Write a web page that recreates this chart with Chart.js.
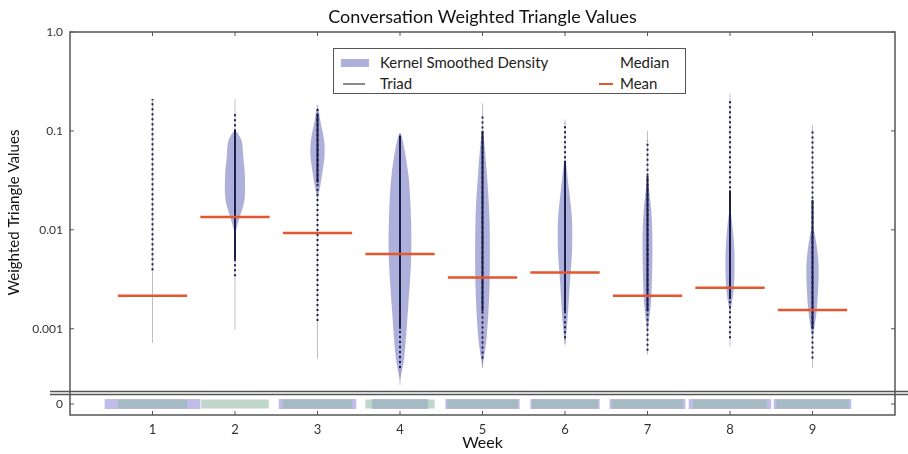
<!DOCTYPE html>
<html>
<head>
<meta charset="utf-8">
<script src="https://cdn.jsdelivr.net/npm/chart.js@4"></script>
<style>
  body { margin: 0; background: #fff; }
  #wrap { position: relative; width: 908px; height: 454px; }
  #legend { position: absolute; left: 333px; top: 48px; width: 351px; height: 44px; border: 1.5px solid #555; background: #fff; font: 15px Lato, sans-serif; color: #222; }
  #legend span { position: absolute; line-height: 18px; white-space: nowrap; }
</style>
</head>
<body>
<div id="wrap">
  <canvas id="myChart" width="908" height="454"></canvas>
  <div id="legend">
    <span style="left:7px;top:10px;width:28px;height:8px;background:rgba(120,124,196,0.6)"></span>
    <span style="left:46px;top:4px">Kernel Smoothed Density</span>
    <span style="left:286px;top:4px">Median</span>
    <span style="left:9px;top:34px;width:22px;height:1.5px;background:#8a8a95"></span>
    <span style="left:46px;top:25px">Triad</span>
    <span style="left:265px;top:34px;width:14px;height:2px;background:#e4572e"></span>
    <span style="left:286px;top:25px">Mean</span>
  </div>
</div>
<script>
var weeks = [1, 2, 3, 4, 5, 6, 7, 8, 9];
var tickValues = [1, 0.1, 0.01, 0.001];
var tickLabels = ['1.0', '0.1', '0.01', '0.001'];

var meanValues = [0.00215, 0.0135, 0.0093, 0.0057, 0.0033, 0.0037, 0.00215, 0.0026, 0.00155];

// extent of the triad points, the dotted part and the dense (solid) part
var triadMin = [0.00072, 0.00098, 0.0005, 0.00027, 0.0004, 0.0007, 0.00055, 0.00066, 0.0004];
var triadMax = [0.21, 0.21, 0.18, 0.095, 0.19, 0.13, 0.1, 0.24, 0.115];
var dotLo = [0.0039, 0.0034, 0.0012, 0.0004, 0.0005, 0.0008, 0.0006, 0.0008, 0.0005];
var dotHi = [0.21, 0.15, 0.18, 0.095, 0.15, 0.12, 0.08, 0.2, 0.1];
var denseLo = [null, 0.005, 0.03, 0.001, 0.0015, 0.0015, 0.0015, 0.002, 0.001];
var denseHi = [null, 0.1, 0.15, 0.09, 0.1, 0.05, 0.035, 0.025, 0.02];

// kernel density profile per week: values and half widths (in weeks)
var violinValues = [
  [],
  [0.009, 0.012, 0.02, 0.035, 0.055, 0.08, 0.1],
  [0.02, 0.03, 0.055, 0.08, 0.12, 0.175],
  [0.0003, 0.0005, 0.0017, 0.005, 0.012, 0.037, 0.095],
  [0.0004, 0.0008, 0.0027, 0.0126, 0.04, 0.1],
  [0.00065, 0.0012, 0.003, 0.006, 0.0126, 0.025, 0.05],
  [0.0009, 0.002, 0.0074, 0.016, 0.03],
  [0.0014, 0.0025, 0.005, 0.009, 0.016],
  [0.00078, 0.0015, 0.004, 0.007, 0.0107]
];
var violinWidths = [
  [],
  [0, 0.04, 0.115, 0.12, 0.1, 0.08, 0],
  [0, 0.04, 0.085, 0.08, 0.04, 0],
  [0, 0.05, 0.1, 0.135, 0.135, 0.1, 0],
  [0, 0.05, 0.085, 0.085, 0.05, 0],
  [0, 0.03, 0.06, 0.085, 0.085, 0.05, 0],
  [0, 0.045, 0.06, 0.045, 0],
  [0, 0.045, 0.055, 0.04, 0],
  [0, 0.05, 0.075, 0.05, 0]
];

// zero-valued triads (lower panel), half widths in weeks
var zeroDensity = [0.58, 0, 0.47, 0.34, 0.45, 0.42, 0.46, 0.5, 0.47];
var zeroTriad = [0.42, 0.41, 0.42, 0.42, 0.43, 0.4, 0.43, 0.45, 0.44];

var violinFill = 'rgba(120,124,196,0.6)';
var dotColor = '#1c1f4a';
var meanColor = '#e4572e';
var meanHalf = 0.42;

Chart.defaults.font.family = 'Lato, sans-serif';
Chart.defaults.color = '#333';

var datasets = [];
function seg(x0, x1, y0, y1, axis, style) {
  datasets.push(Object.assign({
    data: [{x: x0, y: y0}, {x: x1, y: y1}],
    yAxisID: axis, showLine: true, pointRadius: 0, fill: false
  }, style));
}

weeks.forEach(function (wk, i) {
  var v = violinValues[i], w = violinWidths[i];
  if (v.length) {
    var pts = v.map(function (val, k) { return {x: wk + w[k], y: val}; });
    for (var k = v.length - 2; k >= 0; k--) pts.push({x: wk - w[k], y: v[k]});
    datasets.push({
      data: pts, yAxisID: 'y', showLine: true, pointRadius: 0,
      borderWidth: 0, borderColor: 'rgba(0,0,0,0)', backgroundColor: violinFill,
      fill: 'shape', tension: 0.3, order: 6
    });
  }
  seg(wk, wk, triadMin[i], triadMax[i], 'y', {borderColor: 'rgba(110,110,135,0.45)', borderWidth: 1, order: 5});
  seg(wk, wk, dotLo[i], dotHi[i], 'y', {borderColor: dotColor, borderWidth: 2, borderDash: [2, 3], order: 4});
  if (denseLo[i] !== null) {
    seg(wk, wk, denseLo[i], denseHi[i], 'y', {borderColor: dotColor, borderWidth: 2, order: 3});
  }
  seg(wk - meanHalf, wk + meanHalf, meanValues[i], meanValues[i], 'y', {borderColor: meanColor, borderWidth: 2.5, order: 1});
  if (zeroDensity[i] > 0) {
    seg(wk - zeroDensity[i], wk + zeroDensity[i], 0, 0, 'yz', {borderColor: 'rgba(165,160,225,0.7)', borderWidth: 10, borderCapStyle: 'butt', order: 4});
  }
  seg(wk - zeroTriad[i], wk + zeroTriad[i], 0, 0, 'yz', {borderColor: 'rgba(150,185,170,0.6)', borderWidth: 9, borderCapStyle: 'butt', order: 3});
});

var framePlugin = {
  id: 'frame',
  afterDraw: function (chart) {
    var ctx = chart.ctx, a = chart.chartArea, s = chart.scales;
    ctx.save();
    ctx.strokeStyle = '#555';
    ctx.lineWidth = 1.5;
    ctx.strokeRect(a.left, a.top, a.right - a.left, a.bottom - a.top);
    ctx.lineWidth = 1;
    ctx.beginPath();
    weeks.forEach(function (wk) {
      var x = s.x.getPixelForValue(wk);
      ctx.moveTo(x, a.top); ctx.lineTo(x, a.top + 4);
      ctx.moveTo(x, a.bottom); ctx.lineTo(x, a.bottom - 4);
    });
    tickValues.forEach(function (v) {
      var y = s.y.getPixelForValue(v);
      ctx.moveTo(a.left, y); ctx.lineTo(a.left + 4, y);
      ctx.moveTo(a.right, y); ctx.lineTo(a.right - 4, y);
    });
    var y0 = s.yz.getPixelForValue(0);
    ctx.moveTo(a.left, y0); ctx.lineTo(a.left + 4, y0);
    ctx.moveTo(a.right, y0); ctx.lineTo(a.right - 4, y0);
    ctx.stroke();
    // separator between the two panels
    var yb = s.y.bottom;
    ctx.lineWidth = 1.4;
    ctx.beginPath();
    ctx.moveTo(a.left - 20, yb - 1.5); ctx.lineTo(chart.width, yb - 1.5);
    ctx.moveTo(a.left - 20, yb + 1.5); ctx.lineTo(chart.width, yb + 1.5);
    ctx.stroke();
    // title centred over the plot
    ctx.fillStyle = '#111';
    ctx.font = '18px Lato, sans-serif';
    ctx.textAlign = 'center';
    ctx.textBaseline = 'middle';
    ctx.fillText('Conversation Weighted Triangle Values', (a.left + a.right) / 2, 17);
    ctx.restore();
  }
};

var ctx = document.getElementById('myChart').getContext('2d');
var myChart = new Chart(ctx, {
  type: 'scatter',
  data: { datasets: datasets },
  options: {
    responsive: false,
    animation: false,
    layout: { padding: { top: 32, right: 13, left: 0, bottom: 0 } },
    plugins: { legend: { display: false }, tooltip: { enabled: false } },
    scales: {
      x: {
        type: 'linear', min: 0, max: 10,
        afterBuildTicks: function (s) { s.ticks = weeks.map(function (v) { return {value: v}; }); },
        ticks: { autoSkip: false, padding: 7, color: '#333', font: { size: 13 } },
        grid: { display: false, drawTicks: false },
        border: { display: false },
        title: { display: true, text: 'Week', color: '#111', font: { size: 16 }, padding: { top: 0, bottom: 2 } },
        afterFit: function (s) { s.height = 39; }
      },
      yz: {
        type: 'linear', position: 'left', stack: 'panel', stackWeight: 22, weight: 1,
        min: -1, max: 1,
        afterBuildTicks: function (s) { s.ticks = [{value: 0}]; },
        ticks: { autoSkip: false, padding: 7, color: '#333', font: { size: 12 }, callback: function () { return '0'; } },
        grid: { display: false, drawTicks: false },
        border: { display: false },
        afterFit: function (s) { s.width = 70; }
      },
      y: {
        type: 'logarithmic', position: 'left', stack: 'panel', stackWeight: 361, weight: 2,
        min: 2.24e-4, max: 1,
        afterBuildTicks: function (s) { s.ticks = tickValues.map(function (v) { return {value: v}; }); },
        ticks: { autoSkip: false, padding: 7, color: '#333', font: { size: 12 }, callback: function (v, i) { return tickLabels[i]; } },
        grid: { display: false, drawTicks: false },
        border: { display: false },
        title: { display: true, text: 'Weighted Triangle Values', color: '#111', font: { size: 15 }, padding: { top: 5, bottom: 0 } },
        afterFit: function (s) { s.width = 70; }
      }
    }
  },
  plugins: [framePlugin]
});
</script>
</body>
</html>
